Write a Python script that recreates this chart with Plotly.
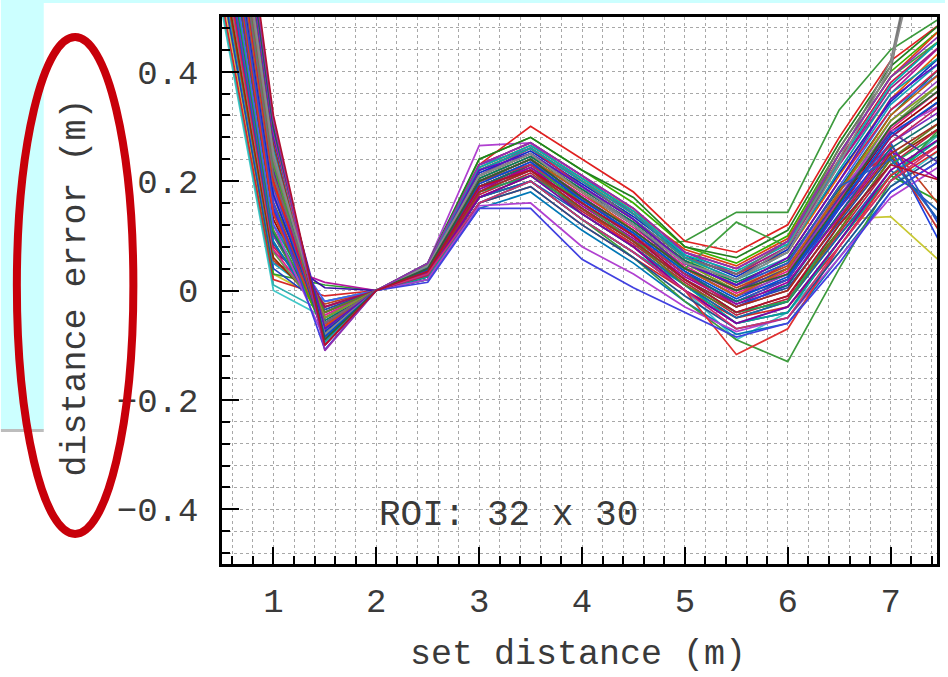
import plotly.graph_objects as go

# ---------------- data ----------------
set_distance = [0.5, 1.0, 1.5, 2.0, 2.5, 3.0, 3.5, 4.0, 4.5, 5.0, 5.5, 6.0, 6.5, 7.0, 7.5]

run_01 = [0.53, 0.02, -0.01, 0, 0.020, 0.160, 0.190, 0.120, 0.060, 0.000, -0.050, -0.030, 0.080, 0.200, 0.260]
run_02 = [0.56, 0.04, -0.03, 0, 0.030, 0.190, 0.230, 0.170, 0.110, 0.040, -0.010, 0.020, 0.150, 0.280, 0.350]
run_03 = [0.58, 0.05, -0.02, 0, 0.040, 0.210, 0.250, 0.190, 0.130, 0.060, 0.020, 0.060, 0.200, 0.340, 0.420]
run_04 = [0.60, 0.06, -0.04, 0, 0.025, 0.170, 0.210, 0.150, 0.090, 0.020, -0.040, -0.010, 0.110, 0.240, 0.300]
run_05 = [0.62, 0.07, -0.05, 0, 0.035, 0.200, 0.240, 0.180, 0.120, 0.050, 0.000, 0.040, 0.170, 0.300, 0.380]
run_06 = [0.64, 0.08, -0.03, 0, 0.045, 0.230, 0.270, 0.210, 0.150, 0.070, 0.040, 0.090, 0.240, 0.380, 0.460]
run_07 = [0.66, 0.09, -0.06, 0, 0.020, 0.150, 0.180, 0.110, 0.050, -0.020, -0.080, -0.060, 0.060, 0.180, 0.240]
run_08 = [0.67, 0.10, -0.04, 0, 0.030, 0.180, 0.220, 0.160, 0.100, 0.030, -0.030, 0.010, 0.140, 0.270, 0.330]
run_09 = [0.69, 0.11, -0.07, 0, 0.040, 0.220, 0.260, 0.200, 0.140, 0.060, 0.030, 0.070, 0.210, 0.350, 0.440]
run_10 = [0.70, 0.12, -0.05, 0, 0.025, 0.160, 0.200, 0.130, 0.070, 0.010, -0.060, -0.040, 0.090, 0.210, 0.280]
run_11 = [0.72, 0.13, -0.06, 0, 0.035, 0.190, 0.230, 0.170, 0.100, 0.030, -0.020, 0.020, 0.160, 0.290, 0.360]
run_12 = [0.73, 0.14, -0.08, 0, 0.045, 0.240, 0.280, 0.220, 0.160, 0.080, 0.050, 0.100, 0.260, 0.400, 0.480]
run_13 = [0.75, 0.15, -0.06, 0, 0.030, 0.170, 0.200, 0.140, 0.080, 0.010, -0.050, -0.020, 0.100, 0.220, 0.140]
run_14 = [0.76, 0.16, -0.07, 0, 0.040, 0.210, 0.250, 0.180, 0.120, 0.040, 0.000, 0.050, 0.190, 0.250, 0.100]
run_15 = [0.78, 0.17, -0.05, 0, 0.030, 0.200, 0.240, 0.170, 0.110, 0.040, -0.010, 0.030, 0.170, 0.310, 0.390]
run_16 = [0.79, 0.18, -0.08, 0, 0.035, 0.180, 0.210, 0.150, 0.090, 0.020, -0.040, -0.020, 0.120, 0.230, 0.290]
run_17 = [0.81, 0.19, -0.07, 0, 0.040, 0.220, 0.260, 0.190, 0.130, 0.050, 0.010, 0.060, 0.200, 0.330, 0.410]
run_18 = [0.82, 0.20, -0.09, 0, 0.030, 0.160, 0.190, 0.120, 0.060, -0.010, -0.070, -0.050, 0.070, 0.190, 0.250]
run_19 = [0.84, 0.21, -0.06, 0, 0.045, 0.230, 0.270, 0.210, 0.140, 0.060, 0.030, 0.080, 0.230, 0.370, 0.450]
run_20 = [0.85, 0.22, -0.08, 0, 0.035, 0.190, 0.230, 0.160, 0.100, 0.030, -0.020, 0.010, 0.140, 0.260, 0.320]
run_21 = [0.87, 0.23, -0.09, 0, 0.040, 0.200, 0.240, 0.180, 0.110, 0.040, -0.010, 0.040, 0.180, 0.320, 0.400]
run_22 = [0.88, 0.24, -0.07, 0, 0.050, 0.240, 0.280, 0.220, 0.170, 0.080, 0.060, 0.110, 0.270, 0.410, 0.490]
run_23 = [0.90, 0.25, -0.09, 0, 0.030, 0.170, 0.210, 0.140, 0.080, 0.000, -0.060, -0.030, 0.090, 0.220, 0.280]
run_24 = [0.91, 0.26, -0.08, 0, 0.040, 0.210, 0.250, 0.190, 0.120, 0.050, 0.010, 0.050, 0.190, 0.240, 0.120]
run_25 = [0.93, 0.27, -0.10, 0, 0.035, 0.180, 0.220, 0.150, 0.090, 0.020, -0.030, 0.000, 0.130, 0.250, 0.310]
run_26 = [0.94, 0.28, -0.09, 0, 0.045, 0.220, 0.260, 0.200, 0.140, 0.060, 0.020, 0.070, 0.220, 0.360, 0.430]
run_27 = [0.96, 0.29, -0.10, 0, 0.030, 0.160, 0.200, 0.130, 0.070, 0.000, -0.070, -0.050, 0.080, 0.200, 0.270]
run_28 = [0.98, 0.30, -0.09, 0, 0.040, 0.200, 0.240, 0.170, 0.110, 0.040, 0.000, 0.030, 0.160, 0.300, 0.370]
run_29 = [1.00, 0.31, -0.11, 0, 0.050, 0.230, 0.270, 0.210, 0.150, 0.070, 0.040, 0.090, 0.250, 0.390, 0.470]
run_30 = [1.03, 0.32, -0.10, 0, 0.035, 0.190, 0.220, 0.160, 0.100, 0.020, -0.040, -0.010, 0.120, 0.230, 0.200]
run_31 = [0.57, 0.03, 0.010, 0, 0.020, 0.180, 0.220, 0.140, 0.080, 0.010, -0.050, -0.020, 0.100, 0.210, 0.160]
run_32 = [0.61, 0.05, 0.015, 0, 0.030, 0.210, 0.260, 0.200, 0.140, 0.070, 0.030, 0.080, 0.230, 0.360, 0.450]
run_33 = [0.65, 0.07, 0.005, 0, 0.025, 0.170, 0.200, 0.130, 0.070, 0.000, -0.060, -0.040, 0.090, 0.210, 0.270]
run_34 = [0.71, 0.12, -0.02, 0, 0.040, 0.230, 0.260, 0.190, 0.120, 0.050, 0.010, 0.050, 0.190, 0.330, 0.400]
run_35 = [0.77, 0.16, -0.04, 0, 0.030, 0.190, 0.220, 0.150, 0.090, 0.010, -0.040, -0.020, 0.110, 0.240, 0.310]
run_36 = [0.83, 0.20, -0.05, 0, 0.045, 0.210, 0.250, 0.180, 0.120, 0.050, 0.000, 0.040, 0.180, 0.310, 0.380]
run_37 = [0.89, 0.24, -0.06, 0, 0.035, 0.200, 0.230, 0.170, 0.100, 0.030, -0.030, 0.000, 0.130, 0.270, 0.340]
run_38 = [0.95, 0.28, -0.07, 0, 0.040, 0.220, 0.250, 0.190, 0.130, 0.050, 0.010, 0.060, 0.200, 0.350, 0.420]
run_39 = [0.74, 0.14, -0.03, 0, 0.030, 0.180, 0.230, 0.170, 0.110, 0.040, -0.010, 0.030, 0.150, 0.280, 0.350]
run_40 = [0.86, 0.22, -0.06, 0, 0.040, 0.200, 0.240, 0.180, 0.120, 0.040, 0.000, 0.040, 0.170, 0.290, 0.230]
run_41 = [0.55, 0.03, -0.02, 0, 0.030, 0.190, 0.230, 0.200, 0.150, 0.060, 0.010, 0.040, 0.130, 0.135, 0.050]
run_42 = [0.80, 0.18, -0.06, 0, 0.050, 0.265, 0.270, 0.200, 0.130, 0.050, 0.010, 0.050, 0.180, 0.290, 0.340]
run_43 = [0.84, 0.20, -0.08, 0, 0.040, 0.230, 0.300, 0.240, 0.180, 0.090, 0.070, 0.120, 0.280, 0.420, 0.490]
run_44 = [0.78, 0.16, -0.108, 0, 0.015, 0.150, 0.150, 0.057, 0.005, -0.040, -0.085, -0.060, 0.050, 0.180, 0.240]
run_45 = [0.72, 0.12, -0.09, 0, 0.020, 0.155, 0.160, 0.080, 0.030, -0.030, -0.075, -0.050, 0.060, 0.170, 0.230]
run_46 = [0.70, 0.11, -0.05, 0, 0.030, 0.180, 0.210, 0.150, 0.080, 0.090, 0.143, 0.143, 0.330, 0.440, 0.500]
run_47 = [0.68, 0.10, -0.06, 0, 0.030, 0.170, 0.200, 0.130, 0.060, -0.020, -0.090, -0.130, 0.040, 0.200, 0.300]
run_48 = [0.76, 0.14, -0.07, 0, 0.035, 0.190, 0.220, 0.150, 0.080, 0.000, -0.117, -0.070, 0.080, 0.210, 0.270]
run_49 = [0.88, 0.23, -0.08, 0, 0.035, 0.200, 0.230, 0.160, 0.090, 0.040, 0.125, 0.080, 0.250, 0.390, 0.460]
run_50 = [0.90, 0.24, -0.07, 0, 0.040, 0.210, 0.250, 0.190, 0.120, 0.050, 0.020, 0.080, 0.240, 0.420, 0.850]
run_51 = [0.86, 0.21, -0.06, 0, 0.040, 0.220, 0.260, 0.200, 0.130, 0.060, 0.030, 0.090, 0.260, 0.400, 0.900]
run_52 = [0.92, 0.25, -0.08, 0, 0.045, 0.210, 0.250, 0.180, 0.120, 0.050, 0.020, 0.070, 0.230, 0.410, 0.800]
run_53 = [0.51, 0.00, -0.05, 0, 0.020, 0.160, 0.200, 0.130, 0.070, 0.000, -0.090, -0.040, 0.070, 0.190, 0.260]
run_54 = [0.52, 0.01, -0.04, 0, 0.025, 0.170, 0.210, 0.140, 0.080, 0.010, -0.060, -0.030, 0.090, 0.210, 0.290]
run_55 = [0.74, 0.15, -0.07, 0, 0.035, 0.190, 0.220, 0.160, 0.090, 0.020, -0.030, 0.010, 0.150, 0.260, 0.080]
run_56 = [0.81, 0.19, -0.08, 0, 0.040, 0.200, 0.240, 0.170, 0.100, 0.030, -0.020, 0.020, 0.160, 0.270, 0.110]
run_57 = [0.63, 0.075, -0.045, 0, 0.032, 0.195, 0.235, 0.175, 0.115, 0.045, -0.005, 0.035, 0.165, 0.295, 0.370]
run_58 = [0.69, 0.105, -0.055, 0, 0.038, 0.205, 0.245, 0.185, 0.125, 0.055, 0.015, 0.055, 0.185, 0.320, 0.410]
run_59 = [0.75, 0.145, -0.065, 0, 0.028, 0.175, 0.215, 0.145, 0.085, 0.015, -0.045, -0.015, 0.105, 0.230, 0.300]
run_60 = [0.80, 0.175, -0.075, 0, 0.042, 0.215, 0.255, 0.195, 0.135, 0.065, 0.025, 0.075, 0.215, 0.345, 0.430]
run_61 = [0.85, 0.215, -0.085, 0, 0.033, 0.185, 0.225, 0.155, 0.095, 0.025, -0.025, 0.015, 0.135, 0.255, 0.200]
run_62 = [0.91, 0.255, -0.095, 0, 0.044, 0.225, 0.265, 0.205, 0.145, 0.065, 0.035, 0.085, 0.235, 0.375, 0.460]
run_63 = [0.97, 0.295, -0.085, 0, 0.038, 0.195, 0.235, 0.165, 0.105, 0.035, -0.015, 0.025, 0.155, 0.285, 0.350]
run_64 = [0.59, 0.055, -0.025, 0, 0.036, 0.205, 0.245, 0.185, 0.125, 0.055, 0.005, 0.045, 0.175, 0.265, 0.150]
run_65 = [0.66, 0.085, -0.035, 0, 0.027, 0.185, 0.225, 0.165, 0.105, 0.035, -0.025, 0.005, 0.125, 0.245, 0.120]
run_66 = [0.82, 0.195, -0.065, 0, 0.046, 0.225, 0.265, 0.205, 0.145, 0.075, 0.045, 0.095, 0.250, 0.390, 0.480]

runs = [run_53, run_54, run_41, run_01, run_31, run_02, run_32, run_03, run_64, run_04,
        run_33, run_05, run_57, run_06, run_65, run_07, run_47, run_08, run_09, run_58,
        run_46, run_10, run_45, run_11, run_34, run_12, run_39, run_13, run_59, run_55,
        run_14, run_48, run_35, run_15, run_44, run_16, run_42, run_60, run_17, run_18,
        run_56, run_66, run_36, run_19, run_43, run_20, run_61, run_40, run_21, run_22,
        run_49, run_23, run_37, run_24, run_62, run_50, run_25, run_51, run_26, run_38,
        run_27, run_52, run_63, run_28, run_29, run_30]

run_colors = ["#40c8c8", "#30b0b0", "#c8c832", "#d62728", "#2ca02c", "#1f3fbf", "#b5179e", "#17a2b8",
              "#c04020", "#8c2d04", "#3a0ca3", "#6a994e", "#e0208a", "#c9184a", "#2050a0", "#0077b6",
              "#3c9a3c", "#7b2cbf", "#e85d04", "#008060", "#3c9a3c", "#00a896", "#b040d0", "#9d0208",
              "#4361ee", "#38b000", "#a01060", "#1a5fb4", "#c02040", "#2040e0", "#c03030", "#e03030",
              "#608020", "#9040c0", "#4040e0", "#20a060", "#b040d0", "#1030c0", "#d02050", "#205090",
              "#3050d0", "#e04010", "#80a020", "#a02080", "#e02020", "#107070", "#a000a0", "#5030a0",
              "#c06010", "#208020", "#40a040", "#8000a0", "#c02060", "#2060c0", "#00b0b0", "#808080",
              "#a03020", "#707070", "#10a0a0", "#6010c0", "#d03070", "#8a8a8a", "#0050d0", "#306030",
              "#9030b0", "#b01030"]

y_tick_values = [-0.4, -0.2, 0, 0.2, 0.4]
y_tick_labels = ["\u22120.4", "\u22120.2", "0", "0.2", "0.4"]
x_tick_values = [1, 2, 3, 4, 5, 6, 7]
x_tick_labels = ["1", "2", "3", "4", "5", "6", "7"]

# ---------------- layout helpers ----------------
W, H = 948, 677
PL, PR, PT, PB = 222, 940, 17, 564  # plot area in pixels


def px(x):
    return (x - PL) / (PR - PL)


def py(y):
    return (PB - y) / (PB - PT)


FONT = "Liberation Mono, Courier New, monospace"
TXT = "#3a3a3a"

fig = go.Figure()
for vals, col in zip(runs, run_colors):
    fig.add_trace(go.Scatter(x=set_distance, y=vals, mode="lines",
                             line=dict(color=col, width=1.7),
                             showlegend=False, hoverinfo="skip"))

grid = dict(showgrid=True, griddash="dot", gridcolor="#a8a8a8", gridwidth=1)

fig.update_layout(
    width=W, height=H,
    margin=dict(l=PL, r=W - PR, t=PT, b=H - PB),
    paper_bgcolor="white", plot_bgcolor="white",
    font=dict(family=FONT, color=TXT, size=34),
    xaxis=dict(range=[0.5, 0.5 + (PR - PL) / 103.3],
               tickvals=x_tick_values, ticktext=x_tick_labels,
               ticks="inside", ticklen=17, tickwidth=2, tickcolor="black",
               ticklabelstandoff=4,
               showline=True, linecolor="black", linewidth=2.5, mirror=True,
               zeroline=False, tickfont=dict(size=34, family=FONT, color=TXT),
               minor=dict(dtick=0.2, tick0=0, ticks="inside", ticklen=8, tickwidth=1.5,
                          tickcolor="black", **grid),
               **grid),
    yaxis=dict(range=[-0.5, 0.5],
               tickvals=y_tick_values, ticktext=y_tick_labels,
               ticks="inside", ticklen=17, tickwidth=2, tickcolor="black",
               ticklabelstandoff=14,
               showline=True, linecolor="black", linewidth=2.5, mirror=True,
               zeroline=False, tickfont=dict(size=34, family=FONT, color=TXT),
               minor=dict(dtick=0.04, tick0=0, ticks="inside", ticklen=8, tickwidth=1.5,
                          tickcolor="black", **grid),
               **grid),
)

# slide decorations: cyan panel, grey rule, red ellipse
fig.add_shape(type="rect", xref="paper", yref="paper",
              x0=px(0), x1=px(43), y0=py(430), y1=py(0),
              fillcolor="#ccffff", line=dict(width=0), layer="below")
fig.add_shape(type="rect", xref="paper", yref="paper",
              x0=px(0), x1=px(W), y0=py(3), y1=py(0),
              fillcolor="#ccffff", line=dict(width=0), layer="below")
fig.add_shape(type="line", xref="paper", yref="paper",
              x0=px(0), x1=px(43), y0=py(430.5), y1=py(430.5),
              line=dict(color="#bdbdbd", width=3))
fig.add_shape(type="circle", xref="paper", yref="paper",
              x0=px(16), x1=px(133), y0=py(534), y1=py(37),
              line=dict(color="#c8000a", width=8), fillcolor="rgba(0,0,0,0)")

fig.add_annotation(text="distance error (m)", xref="paper", yref="paper",
                   x=px(75), y=py(288), textangle=-90, showarrow=False,
                   xanchor="center", yanchor="middle",
                   font=dict(family=FONT, size=35, color=TXT))
fig.add_annotation(text="set distance (m)", xref="paper", yref="paper",
                   x=px(579), y=py(655), showarrow=False,
                   xanchor="center", yanchor="middle",
                   font=dict(family=FONT, size=35, color=TXT))
fig.add_annotation(text="ROI: 32 x 30", xref="paper", yref="paper",
                   x=px(510), y=py(515), showarrow=False,
                   xanchor="center", yanchor="middle",
                   font=dict(family=FONT, size=36, color=TXT))

fig.write_html("out.html", config={"displayModeBar": False},
               post_script="document.body.style.margin='0px';document.body.style.overflow='hidden';")
